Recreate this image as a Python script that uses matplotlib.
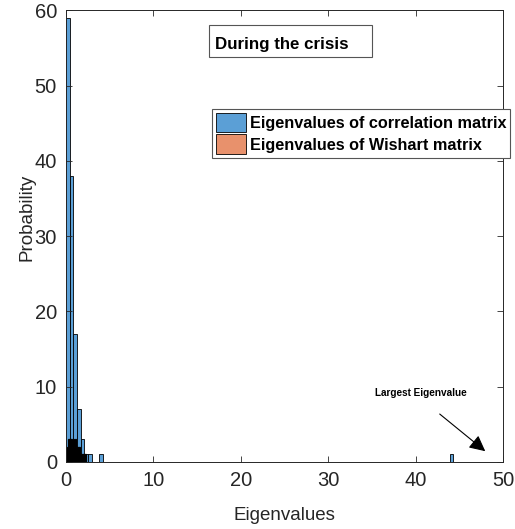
import matplotlib
matplotlib.use("Agg")
import matplotlib.pyplot as plt
from matplotlib.patches import Patch, Rectangle

plt.rcParams['font.family'] = ['Liberation Sans', 'DejaVu Sans']

# histogram of the correlation-matrix eigenvalues (bin width 0.42)
corr_bin_width = 0.42
corr_bin_left = [0.0, 0.42, 0.84, 1.26, 1.68, 2.10, 2.52, 3.78, 43.9]
corr_counts = [59, 38, 17, 7, 3, 1, 1, 1, 1]

# histogram of the Wishart-matrix eigenvalues (bin width 0.1)
wish_bin_width = 0.1
wish_bin_left = [0.1, 0.2, 0.3, 0.4, 0.5, 0.6, 0.7, 0.8, 0.9, 1.0, 1.1,
                 1.2, 1.3, 1.4, 1.5, 1.6, 1.7, 1.8, 1.9, 2.0, 2.1, 2.2]
wish_counts = [2, 3, 3, 3, 3, 3, 2, 3, 2, 3, 2, 2, 2, 2, 2, 1, 1, 1, 1, 1, 1, 1]

legend_labels = ['Eigenvalues of correlation matrix', 'Eigenvalues of Wishart matrix']
blue = '#5b9fd6'
orange = '#e8916c'
axcol = '#262626'

fig = plt.figure(figsize=(5.15, 5.29), dpi=100)
ax = fig.add_axes([0.128, 0.1267, 0.849, 0.854])

ax.bar(corr_bin_left, corr_counts, width=corr_bin_width, align='edge',
       color=blue, edgecolor='black', linewidth=0.6)
ax.bar(wish_bin_left, wish_counts, width=wish_bin_width, align='edge',
       color=orange, edgecolor='black', linewidth=0.9)

ax.set_xlim(0, 50)
ax.set_ylim(0, 60)
ax.set_xticks(range(0, 51, 10))
ax.set_yticks(range(0, 61, 10))
ax.tick_params(direction='in', length=4, width=0.6, colors=axcol,
               labelsize=14.5, top=True, right=True, pad=6.5)
for s in ax.spines.values():
    s.set_color(axcol)
    s.set_linewidth(0.7)

ax.set_xlabel('Eigenvalues', fontsize=13.5, color=axcol)
ax.xaxis.set_label_coords(0.5, -0.1)
ax.set_ylabel('Probability', fontsize=13.5, color=axcol)
ax.yaxis.set_label_coords(-0.07, 0.542)

# fixed-size title box (figure pixels 209..372 x 25..57)
fig.patches.append(Rectangle((209 / 515, 1 - 57 / 529), 163 / 515, 32 / 529,
                             transform=fig.transFigure, fc='white',
                             ec='#555555', lw=0.8, zorder=5))
fig.text(215 / 515, 1 - 44 / 529, 'During the crisis', fontsize=12.2,
         fontweight='bold', ha='left', va='center', zorder=6)

handles = [Patch(facecolor=blue, edgecolor='black', lw=0.6),
           Patch(facecolor=orange, edgecolor='black', lw=0.6)]
leg = ax.legend(handles, legend_labels, loc='upper left',
                bbox_to_anchor=(212 / 515, 1 - 109 / 529),
                bbox_transform=fig.transFigure, fancybox=False, framealpha=1,
                edgecolor='#555555', prop=dict(size=11.7, weight='bold'),
                handlelength=1.85, handleheight=1.5, handletextpad=0.25,
                borderpad=0.22, labelspacing=0.12, borderaxespad=0)
leg.get_frame().set_linewidth(0.8)

ax.annotate('', xy=(48.2, 1.2), xytext=(42.5, 6.6),
            arrowprops=dict(arrowstyle='-|>', color='black', lw=0.8,
                            mutation_scale=24))
ax.text(40.6, 9.2, 'Largest Eigenvalue', fontsize=7.2, fontweight='bold',
        ha='center', va='center')

fig.savefig('out.png', dpi=100)
